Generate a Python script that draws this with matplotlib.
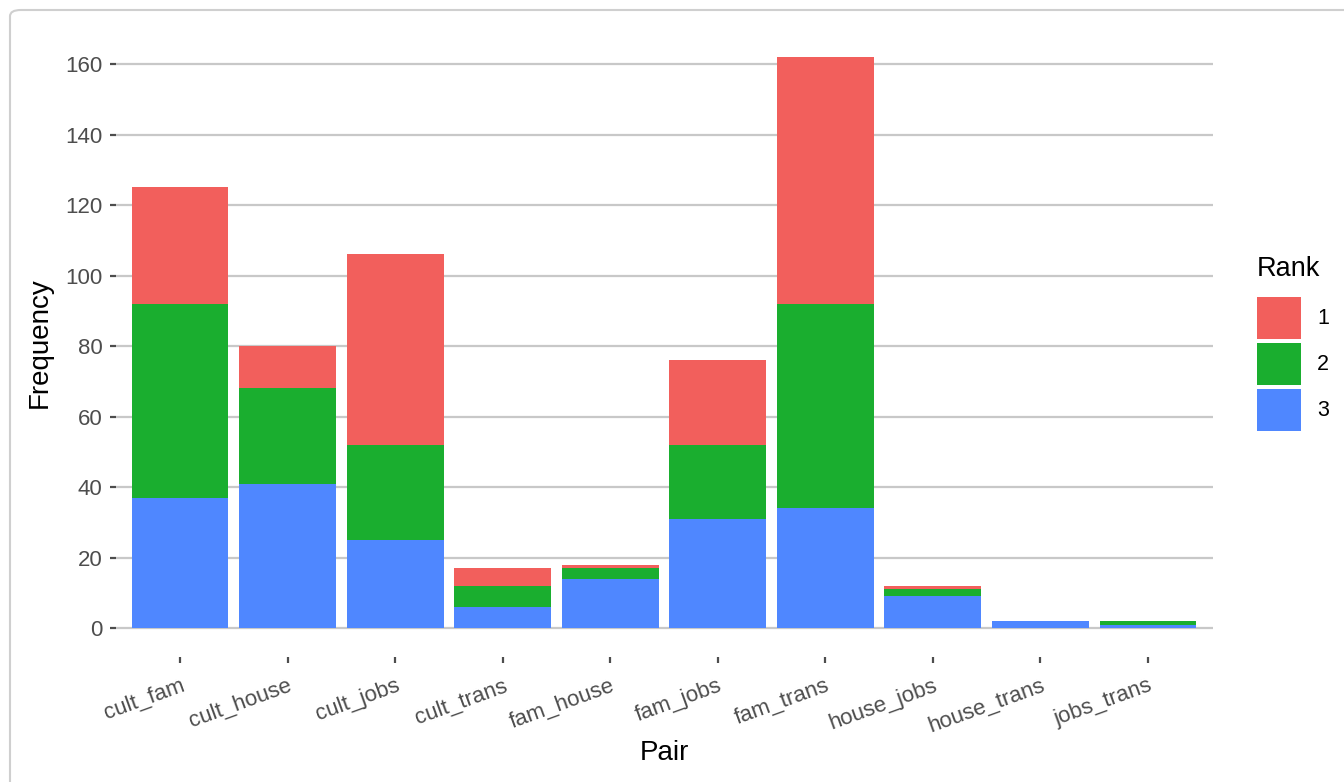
import numpy as np
import matplotlib.pyplot as plt
from matplotlib.patches import FancyBboxPatch, Patch

plt.rcParams['font.family'] = ['Liberation Sans', 'DejaVu Sans']

# data
pairs = ['cult_fam', 'cult_house', 'cult_jobs', 'cult_trans', 'fam_house',
         'fam_jobs', 'fam_trans', 'house_jobs', 'house_trans', 'jobs_trans']
rank1 = [33, 12, 54, 5, 1, 24, 70, 1, 0, 0]
rank2 = [55, 27, 27, 6, 3, 21, 58, 2, 0, 1]
rank3 = [37, 41, 25, 6, 14, 31, 34, 9, 2, 1]
ranks = ['1', '2', '3']
colours = ['#F25F5C', '#1AAE2F', '#4F87FF']
yticks = [0, 20, 40, 60, 80, 100, 120, 140, 160]

W, H = 1344, 782
fig = plt.figure(figsize=(W / 100, H / 100), dpi=100)

# outer rounded frame (cropped at right/bottom like the screenshot)
frame = FancyBboxPatch((10 / W, 1 - 1500 / H), 1500 / W, 1490 / H,
                       boxstyle='round,pad=0,rounding_size=0.008',
                       transform=fig.transFigure, fill=False,
                       edgecolor='#cfcfcf', linewidth=1.5)
fig.patches.append(frame)

# panel in pixel coords
left, right, top, bottom = 115.5, 1212.5, 28.4, 656.6
pw, ph = right - left, bottom - top
ax = fig.add_axes([left / W, 1 - bottom / H, pw / W, ph / H])

x = np.arange(len(pairs))
r1 = np.array(rank1)
r2 = np.array(rank2)
r3 = np.array(rank3)
ax.bar(x, r3, width=0.9, color=colours[2], zorder=3)
ax.bar(x, r2, width=0.9, bottom=r3, color=colours[1], zorder=3)
ax.bar(x, r1, width=0.9, bottom=r3 + r2, color=colours[0], zorder=3)

total = (r1 + r2 + r3).max()
ax.set_xlim(-0.6, len(pairs) - 0.4)
ax.set_ylim(-0.05 * total, total * 1.05)

ax.set_yticks(yticks)
ax.set_xticks(x)
ax.set_xticklabels(pairs, rotation=20, ha='right', va='top',
                   rotation_mode='anchor')
ax.tick_params(axis='both', colors='#4d4d4d', labelsize=16, width=1.6,
               length=4.5)
ax.tick_params(axis='x', pad=9)
ax.tick_params(axis='y', pad=5)

ax.yaxis.grid(True, color='#c8c8c8', linewidth=1.6, zorder=0)
ax.xaxis.grid(False)
for s in ax.spines.values():
    s.set_visible(False)

ax.set_ylabel('Frequency', fontsize=20, color='black', va='center')
ax.yaxis.set_label_coords((40 - left) / pw, 0.5)
ax.set_xlabel('Pair', fontsize=20, color='black', va='center')
ax.xaxis.set_label_coords((664 - left) / pw, (bottom - 753) / ph)

# legend
fig.text(1257 / W, 1 - 269 / H, 'Rank', fontsize=19.5, ha='left', va='center')
fs = 15.5 * 100 / 72
hh = (42 / fs - 0.245) / 0.65
handles = [Patch(facecolor=c, edgecolor='none') for c in colours]
fig.legend(handles, ranks, loc='upper left',
           bbox_to_anchor=(1257 / W, 1 - 297 / H), frameon=False,
           fontsize=15.5, handlelength=44 / fs, handleheight=hh,
           labelspacing=4 / fs, handletextpad=16 / fs, borderpad=0,
           borderaxespad=0)

fig.savefig('out.png', dpi=100)
